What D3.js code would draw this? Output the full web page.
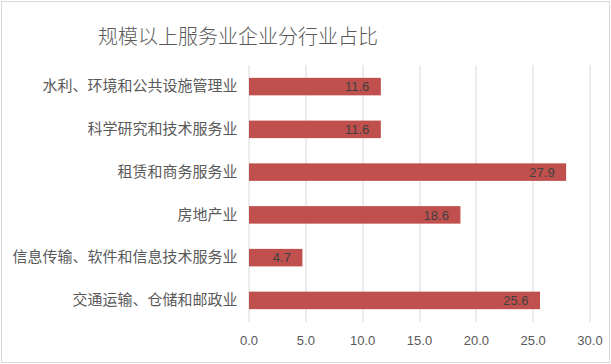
<!DOCTYPE html>
<html>
<head>
<meta charset="utf-8">
<script src="https://cdn.jsdelivr.net/npm/d3@7"></script>
<style>
  body { margin: 0; background: #fff; }
</style>
</head>
<body>
<div id="grafico"></div>
<script>
// dados do gráfico
const categorias = ["水利、环境和公共设施管理业", "科学研究和技术服务业", "租赁和商务服务业", "房地产业", "信息传输、软件和信息技术服务业", "交通运输、仓储和邮政业"];
const valores = [11.6, 11.6, 27.9, 18.6, 4.7, 25.6];
const ticks = [0, 5, 10, 15, 20, 25, 30];
const titulo = "规模以上服务业企业分行业占比";

const W = 611, H = 364;
const margin = { top: 65, right: 22, bottom: 42, left: 248.5 };
const width = W - margin.left - margin.right;
const height = H - margin.top - margin.bottom;

const fonte = "'Noto Sans CJK SC', 'Noto Sans', sans-serif";
const fonteNum = "'Liberation Sans', 'Open Sans', sans-serif";

const root = d3.select("#grafico")
  .append("svg")
  .attr("width", W)
  .attr("height", H);

// moldura
root.append("rect")
  .attr("x", 1.5).attr("y", 1.5)
  .attr("width", W - 3).attr("height", H - 3)
  .attr("fill", "#fff")
  .attr("stroke", "#d9d9d9");

root.append("text")
  .attr("x", 238)
  .attr("y", 44)
  .attr("text-anchor", "middle")
  .attr("font-family", fonte)
  .attr("font-size", "20px")
  .attr("font-weight", 300)
  .attr("fill", "#595959")
  .text(titulo);

const svg = root.append("g")
  .attr("transform", "translate(" + margin.left + "," + margin.top + ")");

const x = d3.scaleLinear()
  .domain([0, 30])
  .range([0, 341]);

const y = d3.scaleBand()
  .domain(categorias)
  .range([0, height])
  .paddingInner(0.59)
  .paddingOuter(0.3);

// linhas de grade
svg.append("g")
  .selectAll("line")
  .data(ticks)
  .enter()
  .append("line")
  .attr("x1", d => Math.round(x(d)) + 0.5)
  .attr("x2", d => Math.round(x(d)) + 0.5)
  .attr("y1", 0)
  .attr("y2", height)
  .attr("stroke", "#d9d9d9");

// eixo x
const eixoX = svg.append("g")
  .attr("transform", "translate(0," + height + ")")
  .call(d3.axisBottom(x).tickValues(ticks).tickFormat(d3.format(".1f")).tickSize(0).tickPadding(14));
eixoX.select(".domain").remove();
eixoX.selectAll("text")
  .attr("font-family", fonteNum)
  .attr("font-size", "13px")
  .attr("fill", "#595959");

// eixo y
const eixoY = svg.append("g")
  .call(d3.axisLeft(y).tickSize(0).tickPadding(11));
eixoY.select(".domain").remove();
eixoY.selectAll("text")
  .attr("font-family", fonte)
  .attr("font-size", "15px")
  .attr("fill", "#595959");

// barras
svg.selectAll(".bar")
  .data(valores)
  .enter()
  .append("rect")
  .attr("class", "bar")
  .attr("x", x(0) + 0.5)
  .attr("y", (d, i) => y(categorias[i]))
  .attr("width", d => x(d) - x(0))
  .attr("height", y.bandwidth())
  .attr("fill", "#c0504d");

// rótulos
svg.selectAll(".rotulo")
  .data(valores)
  .enter()
  .append("text")
  .attr("class", "rotulo")
  .attr("x", d => x(d) - 11)
  .attr("y", (d, i) => y(categorias[i]) + y.bandwidth() / 2)
  .attr("dy", "0.36em")
  .attr("text-anchor", "end")
  .attr("font-family", fonteNum)
  .attr("font-size", "13px")
  .attr("fill", "#404040")
  .text(d => d.toFixed(1));
</script>
</body>
</html>
